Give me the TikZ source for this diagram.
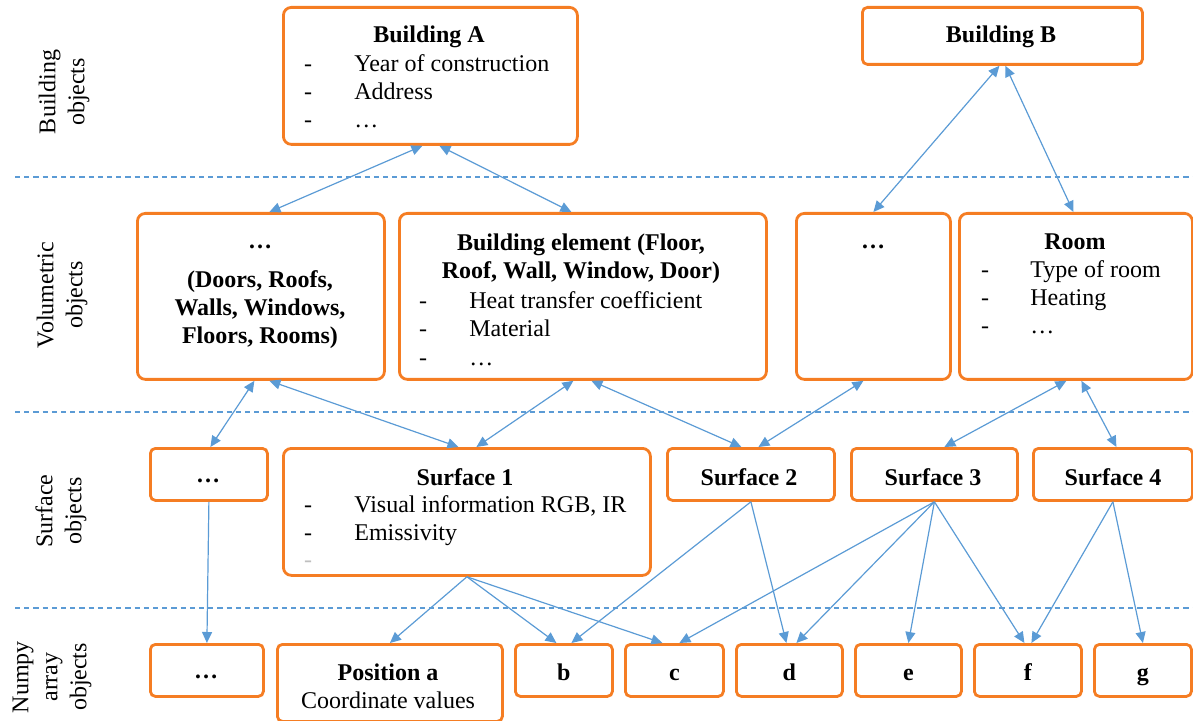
\documentclass[tikz,border=0pt]{standalone}
\usepackage{fontspec}
\setmainfont{Liberation Serif}
\usetikzlibrary{positioning,calc}
\usetikzlibrary{arrows.meta}

\definecolor{boxorange}{RGB}{245,125,35}
\definecolor{linkblue}{RGB}{91,155,213}

\tikzset{
  objbox/.style={draw=boxorange, line width=1.4pt, rounded corners=4pt, anchor=north west, inner sep=0pt},
  smallbox/.style={objbox, rounded corners=2.5pt, minimum height=26pt},
  title/.style={font=\fontsize{12}{14}\selectfont\bfseries, anchor=base, inner sep=0pt},
  item/.style={font=\fontsize{12}{14}\selectfont, anchor=base west, inner sep=0pt},
  dashmark/.style={font=\fontsize{12}{14}\selectfont, anchor=base, inner sep=0pt},
  layer/.style={font=\fontsize{12}{14.5}\selectfont, rotate=90, align=center, inner sep=0pt},
  link/.style={linkblue, line width=0.6pt, {Triangle[length=5.5pt,width=5pt]}-{Triangle[length=5.5pt,width=5pt]}},
  feed/.style={linkblue, line width=0.6pt, -{Triangle[length=5.5pt,width=5pt]}},
  sep/.style={linkblue, line width=0.6pt, dash pattern=on 2.6pt off 2pt}
}

\begin{document}
\begin{tikzpicture}[x=0.5pt,y=-0.5pt]
        \useasboundingbox (0,0) rectangle (1193,721);

        % layer labels and separators
        \node[layer] (lbuild) at (64,92) {Building\\objects};
        \node[layer] (lvol) at (62,295) {Volumetric\\objects};
        \node[layer] (lsurf) at (61,511) {Surface\\objects};
        \node[layer] (lnumpy) at (52,677) {Numpy\\array\\objects};
        \draw[sep] (15,177) -- (1193,177);
        \draw[sep] (15,412) -- (1193,412);
        \draw[sep] (15,608) -- (1193,608);

        % building objects
        \node[objbox, minimum width=147pt, minimum height=68.5pt] (bA) at (282,6) {};
        \node[title] (tA) at (429,43) {Building A};
        \foreach \txt [count=\i] in {Year of construction, Address, \dots} {
            \node[dashmark] (bA-d\i) at (308,44+28*\i) {-};
            \node[item] (bA-i\i) at (354,44+28*\i) {\txt};
        }
        \node[objbox, minimum width=140pt, minimum height=28.5pt, rounded corners=2.5pt] (bB) at (861,6) {};
        \node[title] (tB) at (1001,43) {Building B};

        % volumetric objects
        \node[objbox, minimum width=123.5pt, minimum height=83pt] (v1) at (136,212) {};
        \node[title] (tv1a) at (260,249) {\dots};
        \node[title, align=center, anchor=north] (tv1b) at (260,270) {(Doors, Roofs,\\Walls, Windows,\\Floors, Rooms)};
        \node[objbox, minimum width=183.5pt, minimum height=83pt] (v2) at (398,212) {};
        \node[title, align=center, anchor=north] (tv2) at (581,233) {Building element (Floor,\\Roof, Wall, Window, Door)};
        \foreach \txt [count=\i] in {Heat transfer coefficient, Material, \dots} {
            \node[dashmark] (v2-d\i) at (423,281+28*\i) {-};
            \node[item] (v2-i\i) at (469,281+28*\i) {\txt};
        }
        \node[objbox, minimum width=77pt, minimum height=83pt] (v3) at (795,212) {};
        \node[title] (tv3) at (873,249) {\dots};
        \node[objbox, minimum width=116.5pt, minimum height=83pt] (room) at (958,212) {};
        \node[title] (troom) at (1075,250) {Room};
        \foreach \txt [count=\i] in {Type of room, Heating, \dots} {
            \node[dashmark] (room-d\i) at (985,250+28*\i) {-};
            \node[item] (room-i\i) at (1030,250+28*\i) {\txt};
        }

        % surface objects
        \node[smallbox, minimum width=58.5pt] (s0) at (149,447) {};
        \node[title] (ts0) at (208,482) {\dots};
        \node[objbox, minimum width=183.5pt, minimum height=63.5pt] (s1) at (282,447) {};
        \node[title] (ts1) at (465,485) {Surface 1};
        \foreach \txt [count=\i] in {{Visual information RGB, IR}, Emissivity} {
            \node[dashmark] (s1-d\i) at (308,484+28*\i) {-};
            \node[item] (s1-i\i) at (354,484+28*\i) {\txt};
        }
        \node[dashmark, black!25] (s1-d3) at (308,567) {-};
        \node[smallbox, minimum width=83.5pt] (s2) at (666,447) {};
        \node[title] (ts2) at (749,485) {Surface 2};
        \node[smallbox, minimum width=83pt] (s3) at (850,447) {};
        \node[title] (ts3) at (933,485) {Surface 3};
        \node[smallbox, minimum width=79.5pt] (s4) at (1032,447) {};
        \node[title] (ts4) at (1113,485) {Surface 4};

        % numpy array objects
        \node[smallbox, minimum width=56.5pt] (n0) at (149,643) {};
        \node[title] (tn0) at (206,678) {\dots};
        \node[objbox, minimum width=112.5pt, minimum height=38.5pt, rounded corners=2.5pt] (pa) at (276,643) {};
        \node[title] (tpa) at (388,680) {Position a};
        \node[item, anchor=base] (ipa) at (388,708) {Coordinate values};
        \foreach \nm/\lx/\w in {b/514/48.5, c/624/49, d/735/53, e/854/53, f/973/53.5, g/1093/48.5} {
            \node[smallbox, minimum width=\w pt] (n\nm) at (\lx,643) {};
            \node[title] (tn\nm) at ($(n\nm.north)+(0,37)$) {\nm};
        }

        % building <-> volumetric
        \draw[link] ([xshift=-4pt]bA.south) -- ([xshift=4.25pt]v1.north);
        \draw[link] ([xshift=4.5pt]bA.south) -- ([xshift=-5.75pt]v2.north);
        \draw[link] ([xshift=-1.5pt]bB.south) -- (v3.north);
        \draw[link] ([xshift=1.5pt]bB.south) -- ([xshift=-1.25pt]room.north);

        % volumetric <-> surface
        \draw[link] ([xshift=-3.25pt]v1.south) -- ([xshift=0.75pt]s0.north);
        \draw[link] ([xshift=4.25pt]v1.south) -- ([xshift=-4.25pt]s1.north);
        \draw[link] ([xshift=-4.75pt]v2.south) -- ([xshift=4.75pt]s1.north);
        \draw[link] ([xshift=4.25pt]v2.south) -- ([xshift=-4.75pt]s2.north);
        \draw[link] ([xshift=-5pt]v3.south) -- ([xshift=3.75pt]s2.north);
        \draw[link] ([xshift=-4.75pt]room.south) -- ([xshift=5pt]s3.north);
        \draw[link] ([xshift=2.75pt]room.south) -- ([xshift=1.75pt]s4.north);

        % surface -> numpy arrays
        \draw[feed] (s0.south) -- (n0.north);
        \draw[feed] (s1.south) -- (pa.north);
        \draw[feed] (s1.south) -- ([xshift=-3.75pt]nb.north);
        \draw[feed] (s1.south) -- ([xshift=-6pt]nc.north);
        \draw[feed] (s2.south) -- ([xshift=3.75pt]nb.north);
        \draw[feed] (s2.south) -- ([xshift=-1.5pt]nd.north);
        \draw[feed] (s3.south) -- ([xshift=2.5pt]nc.north);
        \draw[feed] (s3.south) -- ([xshift=3.5pt]nd.north);
        \draw[feed] (s3.south) -- (ne.north);
        \draw[feed] (s3.south) -- ([xshift=-1.75pt]nf.north);
        \draw[feed] (s4.south) -- ([xshift=1.75pt]nf.north);
        \draw[feed] (s4.south) -- (ng.north);
    \end{tikzpicture}
\end{document}
